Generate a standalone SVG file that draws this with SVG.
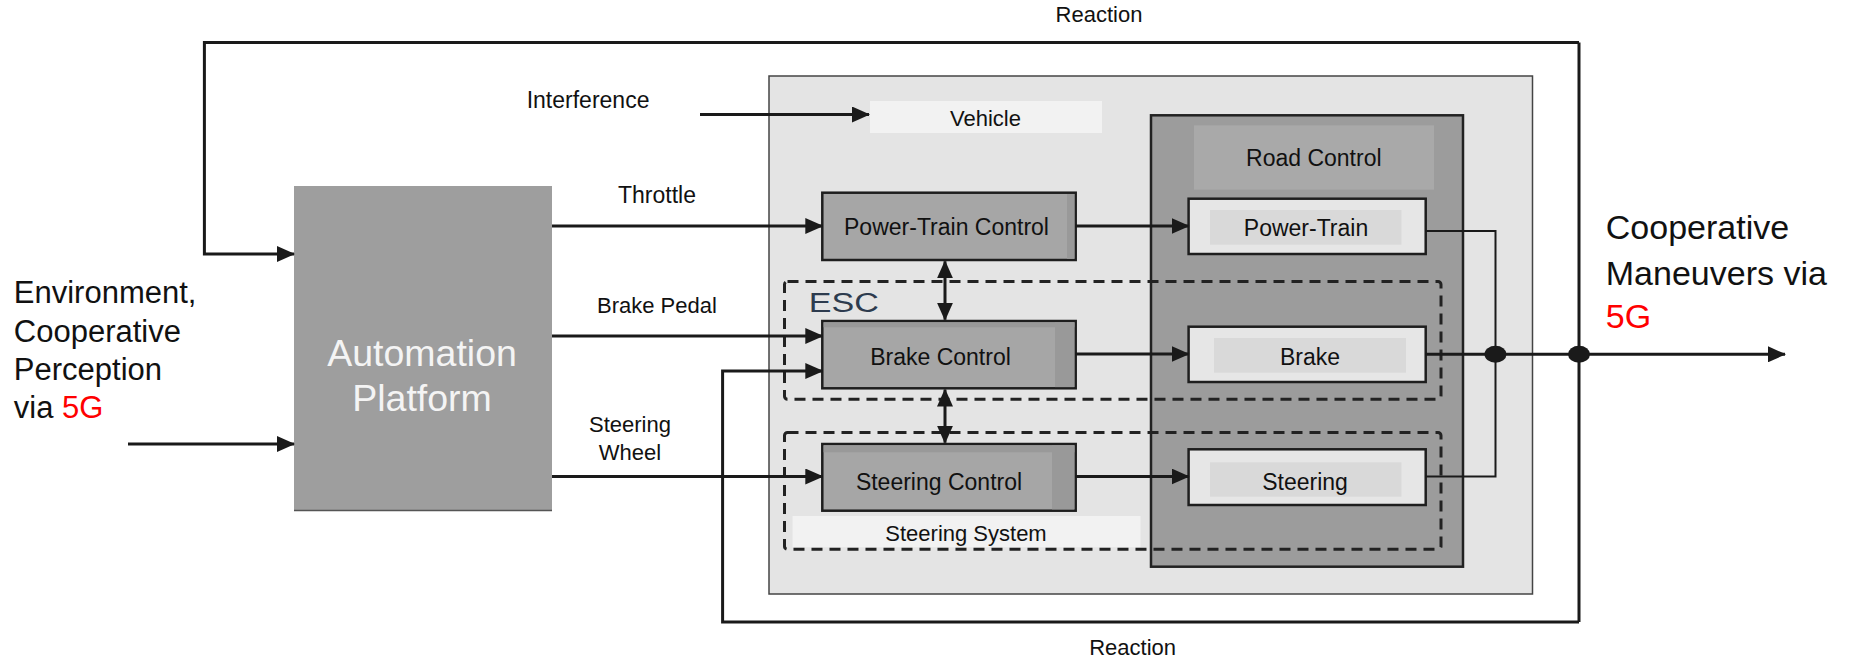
<svg xmlns="http://www.w3.org/2000/svg" width="1854" height="658" viewBox="0 0 1854 658">
<style>
text{font-family:"Liberation Sans",Arial,sans-serif;fill:#111}
.lbl{font-size:22px}
.box{font-size:23px;text-anchor:middle}
.big{font-size:31px}
.big2{font-size:34px}
.red{fill:#ff0000}
.ctl{fill:#a6a6a6;stroke:#1e1e1e;stroke-width:2.5}
.strip{fill:#999999}
.out{fill:#e6e6e6;stroke:#1e1e1e;stroke-width:2.5}
.inner{fill:#d9d9d9}
.dash{fill:none;stroke:#222;stroke-width:3;stroke-dasharray:11 7}
.wire{fill:none;stroke:#1a1a1a;stroke-width:3}
.thin{fill:none;stroke:#1a1a1a;stroke-width:2}
.arr{marker-end:url(#ah)}
.dbl{marker-start:url(#ah);marker-end:url(#ah)}
</style>
<defs>
<marker id="ah" viewBox="0 0 18 16" refX="17" refY="8" markerWidth="18" markerHeight="16" markerUnits="userSpaceOnUse" orient="auto-start-reverse">
<path d="M0,0 L18,8 L0,16 z" fill="#1a1a1a"/>
</marker>
</defs>

<g id="automation">
<rect x="294" y="186" width="258" height="325" fill="#9e9e9e"/>
<line x1="294" y1="510.5" x2="552" y2="510.5" stroke="#555" stroke-width="1.5"/>
<text x="422" y="366" text-anchor="middle" style="font-size:37.5px;fill:#f4f4f4">Automation</text>
<text x="422" y="411" text-anchor="middle" style="font-size:37.5px;fill:#f4f4f4">Platform</text>
</g>

<g id="vehicle">
<rect x="769" y="76" width="763.5" height="518" fill="#e4e4e4" stroke="#444" stroke-width="1.5"/>
<rect x="870" y="101" width="232" height="32" fill="#f2f2f2"/>
<text x="985.5" y="126" class="lbl" text-anchor="middle">Vehicle</text>
</g>

<g id="road-control">
<rect x="1151" y="115.3" width="312" height="451.4" fill="#9c9c9c" stroke="#222" stroke-width="2.5"/>
<rect x="1194" y="125.3" width="240" height="64.4" fill="#a9a9a9"/>
<text x="1313.8" y="165.7" class="box">Road Control</text>
</g>

<g id="power-train-control">
<rect x="822.3" y="192.7" width="253.4" height="67.3" class="ctl"/>
<rect x="1067" y="194" width="7.5" height="64.8" class="strip"/>
<text x="946.5" y="235" class="box">Power-Train Control</text>
</g>

<g id="brake-control">
<rect x="822.3" y="321" width="253.4" height="67.3" class="ctl"/>
<rect x="823.6" y="322.3" width="250.8" height="5" class="strip"/>
<rect x="1055" y="322.3" width="19.4" height="64.8" class="strip"/>
<text x="940.5" y="365" class="box">Brake Control</text>
</g>

<g id="steering-control">
<rect x="822.3" y="444" width="253.4" height="66.7" class="ctl"/>
<rect x="823.6" y="445.3" width="250.8" height="7" class="strip"/>
<rect x="1052" y="445.3" width="22.4" height="64.1" class="strip"/>
<text x="939" y="490" class="box">Steering Control</text>
</g>

<g id="esc">
<rect x="784.5" y="281.5" width="656.5" height="117.8" rx="3" class="dash"/>
<text x="808.8" y="312" textLength="70" lengthAdjust="spacingAndGlyphs" style="font-size:27px;fill:#2d3b4e">ESC</text>
</g>

<g id="steering-system">
<rect x="792.6" y="516" width="347.9" height="31.3" fill="#f2f2f2"/>
<rect x="784.5" y="432.5" width="656.5" height="116.8" rx="3" class="dash"/>
<text x="966" y="540.7" class="lbl" text-anchor="middle">Steering System</text>
</g>

<g id="power-train">
<rect x="1188.6" y="198.7" width="237.1" height="55.3" class="out"/>
<rect x="1210" y="210" width="191.5" height="34.7" class="inner"/>
<text x="1306" y="236" class="box">Power-Train</text>
</g>

<g id="brake">
<rect x="1188.6" y="326.7" width="237.1" height="55.3" class="out"/>
<rect x="1214" y="338" width="192" height="34.7" class="inner"/>
<text x="1310" y="365" class="box">Brake</text>
</g>

<g id="steering">
<rect x="1188.6" y="449.3" width="237.1" height="55.7" class="out"/>
<rect x="1210" y="462.3" width="191.5" height="34.4" class="inner"/>
<text x="1305" y="490" class="box">Steering</text>
</g>

<g id="connectors">
<polyline points="1579,42.5 204.4,42.5 204.4,254 294,254" class="wire arr"/>
<line x1="1579" y1="42.5" x2="1579" y2="622" class="wire"/>
<polyline points="1579,622 722.6,622 722.6,371 822.3,371" class="wire arr"/>
<line x1="128" y1="444" x2="294" y2="444" class="wire arr"/>
<line x1="700" y1="114.5" x2="869" y2="114.5" class="wire arr"/>
<line x1="552" y1="226" x2="822.3" y2="226" class="wire arr"/>
<line x1="552" y1="336" x2="822.3" y2="336" class="wire arr"/>
<line x1="552" y1="476.5" x2="822.3" y2="476.5" class="wire arr"/>
<line x1="1075.7" y1="226" x2="1188.6" y2="226" class="wire arr"/>
<line x1="1075.7" y1="354" x2="1188.6" y2="354" class="wire arr"/>
<line x1="1075.7" y1="476.5" x2="1188.6" y2="476.5" class="wire arr"/>
<line x1="945" y1="261.3" x2="945" y2="319.7" class="wire dbl"/>
<line x1="945" y1="389.6" x2="945" y2="442.7" class="wire dbl"/>
<polyline points="1425.7,231 1495.5,231 1495.5,476.5 1425.7,476.5" class="thin"/>
<line x1="1425.7" y1="354.3" x2="1785" y2="354.3" class="wire arr"/>
<ellipse cx="1495.5" cy="354.3" rx="11" ry="8.5" fill="#1a1a1a"/>
<ellipse cx="1579" cy="354.3" rx="11" ry="8.5" fill="#1a1a1a"/>
</g>

<g id="labels">
<text x="1099" y="22" class="lbl" text-anchor="middle">Reaction</text>
<text x="1132.6" y="655" class="lbl" text-anchor="middle">Reaction</text>
<text x="526.7" y="108.3" style="font-size:23px">Interference</text>
<text x="618" y="203" style="font-size:23px">Throttle</text>
<text x="597" y="313" class="lbl">Brake Pedal</text>
<text x="630" y="432" class="lbl" text-anchor="middle">Steering</text>
<text x="630" y="460" class="lbl" text-anchor="middle">Wheel</text>
<text x="13.8" y="303" class="big">Environment,</text>
<text x="13.8" y="341.7" class="big">Cooperative</text>
<text x="13.8" y="380" class="big">Perception</text>
<text x="13.8" y="418.3" class="big">via <tspan class="red">5G</tspan></text>
<text x="1605.8" y="239.3" class="big2">Cooperative</text>
<text x="1605.8" y="285" class="big2">Maneuvers via</text>
<text x="1605.8" y="328.3" class="big2 red">5G</text>
</g>
</svg>
